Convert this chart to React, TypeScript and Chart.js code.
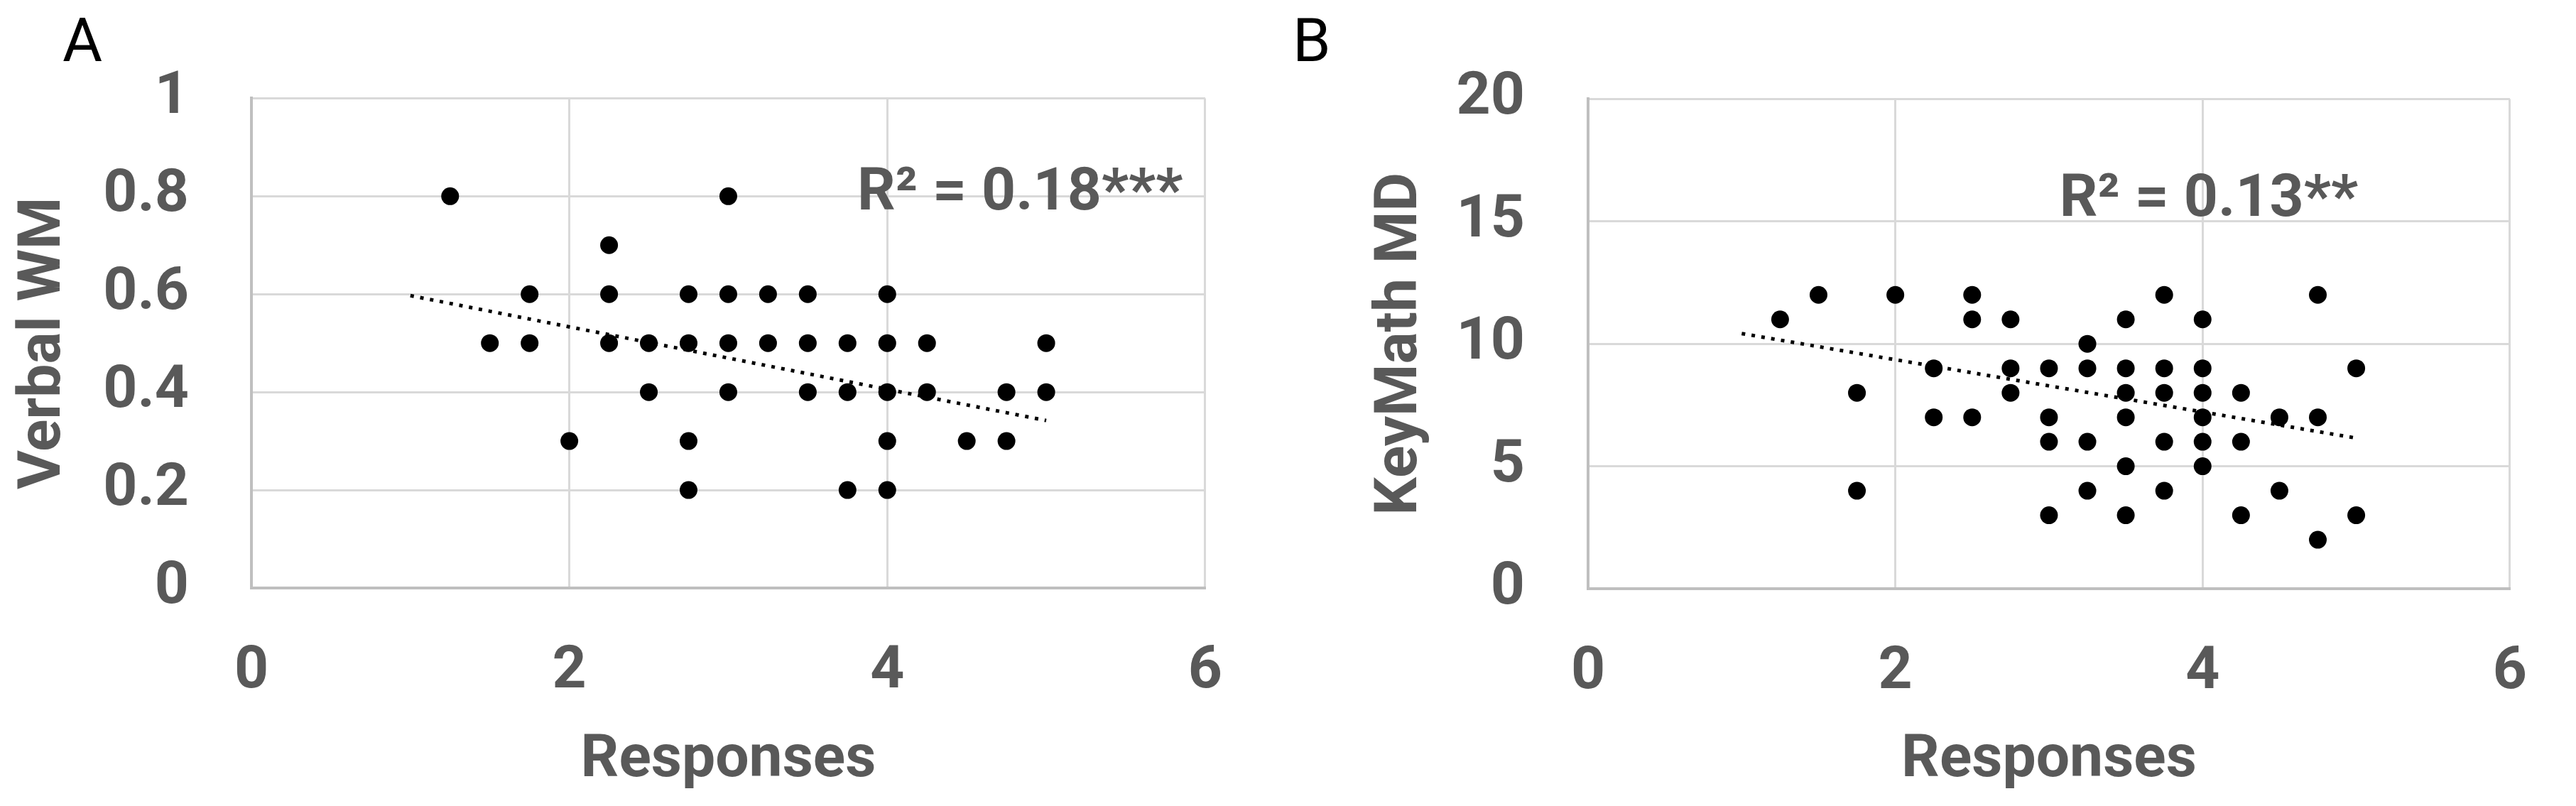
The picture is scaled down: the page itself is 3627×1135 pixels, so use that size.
import React, { useEffect, useRef } from "react";
import { Chart, registerables } from "chart.js";

Chart.register(...registerables);

const FONT = "Roboto";
const GRAY = "#595959";

// Panel A: Verbal WM vs Responses
const verbalResponses = [
  1.25, 3.0, 2.25,
  1.75, 2.25, 2.75, 3.0, 3.25, 3.5, 4.0,
  1.5, 1.75, 2.25, 2.5, 2.75, 3.0, 3.25, 3.5, 3.75, 4.0, 4.25, 5.0,
  2.5, 3.0, 3.5, 3.75, 4.0, 4.25, 4.75, 5.0,
  2.0, 2.75, 4.0, 4.5, 4.75,
  2.75, 3.75, 4.0,
];
const verbalWM = [
  0.8, 0.8, 0.7,
  0.6, 0.6, 0.6, 0.6, 0.6, 0.6, 0.6,
  0.5, 0.5, 0.5, 0.5, 0.5, 0.5, 0.5, 0.5, 0.5, 0.5, 0.5, 0.5,
  0.4, 0.4, 0.4, 0.4, 0.4, 0.4, 0.4, 0.4,
  0.3, 0.3, 0.3, 0.3, 0.3,
  0.2, 0.2, 0.2,
];
const verbalTrendX = [1, 5];
const verbalTrendY = [0.597, 0.342];

// Panel B: KeyMath MD vs Responses
const keyResponses = [
  1.5, 2.0, 2.5, 3.75, 4.75,
  1.25, 2.5, 2.75, 3.5, 4.0,
  3.25,
  2.25, 2.75, 3.0, 3.25, 3.5, 3.75, 4.0, 5.0,
  1.75, 2.75, 3.5, 3.75, 4.0, 4.25,
  2.25, 2.5, 3.0, 3.5, 4.0, 4.5, 4.75,
  3.0, 3.25, 3.75, 4.0, 4.25,
  3.5, 4.0,
  1.75, 3.25, 3.75, 4.5,
  3.0, 3.5, 4.25, 5.0,
  4.75,
];
const keyMathMD = [
  12, 12, 12, 12, 12,
  11, 11, 11, 11, 11,
  10,
  9, 9, 9, 9, 9, 9, 9, 9,
  8, 8, 8, 8, 8, 8,
  7, 7, 7, 7, 7, 7, 7,
  6, 6, 6, 6, 6,
  5, 5,
  4, 4, 4, 4,
  3, 3, 3, 3,
  2,
];
const keyTrendX = [1, 5];
const keyTrendY = [10.42, 6.15];

// Axes
const xMin = 0, xMax = 6, xStep = 2;
const verbalYMin = 0, verbalYMax = 1, verbalYStep = 0.2;
const keyYMin = 0, keyYMax = 20, keyYStep = 5;

const xTitle = "Responses";
const yTitles = ["Verbal WM", "KeyMath MD"];
const panelLabels = ["A", "B"];
const r2Labels = ["R\u00B2 = 0.18***", "R\u00B2 = 0.13**"];
const r2AnchorX = [4.835, 4.04];
const r2AnchorY = [0.7736, 15.24];

const fmtTick = (v: number | string) => String(Math.round(Number(v) * 100) / 100);

const annotatePlugin = {
  id: "annotate",
  afterDatasetsDraw(chart: any, _args: any, opts: any) {
    const { ctx, scales } = chart;
    ctx.save();
    ctx.font = `bold 84px ${FONT}`;
    ctx.fillStyle = GRAY;
    ctx.textAlign = "center";
    ctx.textBaseline = "alphabetic";
    ctx.fillText(
      opts.r2,
      scales.x.getPixelForValue(opts.r2x),
      scales.y.getPixelForValue(opts.r2y)
    );
    ctx.font = `86px ${FONT}`;
    ctx.fillStyle = "#000000";
    ctx.textAlign = "left";
    ctx.fillText(opts.panel, opts.panelX, 86);
    ctx.restore();
  },
};

type Panel = {
  left: number;
  width: number;
  yAxisWidth: number;
  padRight: number;
  padTop: number;
  xAxisHeight: number;
  yTickPad: number;
  yTitlePad: number;
  panelX: number;
  xs: number[];
  ys: number[];
  tx: number[];
  ty: number[];
  yMin: number;
  yMax: number;
  yStep: number;
  idx: number;
};

function ScatterPanel(p: Panel) {
  const ref = useRef<HTMLCanvasElement | null>(null);
  useEffect(() => {
    if (!ref.current) return;
    const points = p.xs.map((x, i) => ({ x, y: p.ys[i] }));
    const trend = p.tx.map((x, i) => ({ x, y: p.ty[i] }));
    const tickFont = { family: FONT, size: 84, weight: "bold" as const };
    const chart = new Chart(ref.current, {
      type: "scatter",
      data: {
        datasets: [
          {
            data: points,
            backgroundColor: "#000000",
            borderWidth: 0,
            pointRadius: 12.5,
            pointHoverRadius: 12.5,
            showLine: false,
          },
          {
            data: trend,
            showLine: true,
            borderColor: "#000000",
            borderWidth: 5,
            borderDash: [5, 9],
            pointRadius: 0,
            pointHoverRadius: 0,
            fill: false,
          } as any,
        ],
      },
      options: {
        animation: false,
        responsive: false,
        devicePixelRatio: 1,
        layout: {
          padding: { left: 0, top: p.padTop, right: p.padRight, bottom: 0 },
        },
        plugins: {
          legend: { display: false },
          tooltip: { enabled: false },
          annotate: {
            r2: r2Labels[p.idx],
            r2x: r2AnchorX[p.idx],
            r2y: r2AnchorY[p.idx],
            panel: panelLabels[p.idx],
            panelX: p.panelX,
          },
        } as any,
        scales: {
          x: {
            type: "linear",
            min: xMin,
            max: xMax,
            ticks: { stepSize: xStep, font: tickFont, color: GRAY, padding: 69, callback: fmtTick },
            grid: { color: "#d9d9d9", lineWidth: 3, drawTicks: false },
            border: { color: "#bfbfbf", width: 4 },
            title: {
              display: true,
              text: xTitle,
              font: tickFont,
              color: GRAY,
              padding: { top: 0, bottom: 13 },
            },
            afterFit: (s: any) => {
              s.height = p.xAxisHeight;
            },
          },
          y: {
            type: "linear",
            min: p.yMin,
            max: p.yMax,
            ticks: { stepSize: p.yStep, font: tickFont, color: GRAY, padding: p.yTickPad, callback: fmtTick },
            grid: { color: "#d9d9d9", lineWidth: 3, drawTicks: false },
            border: { color: "#bfbfbf", width: 4 },
            title: {
              display: true,
              text: yTitles[p.idx],
              font: tickFont,
              color: GRAY,
              padding: { top: p.yTitlePad, bottom: 0 },
            },
            afterFit: (s: any) => {
              s.width = p.yAxisWidth;
            },
          },
        },
      },
      plugins: [annotatePlugin as any],
    });
    return () => chart.destroy();
  }, []);
  return (
    <canvas
      ref={ref}
      width={p.width}
      height={1135}
      style={{
        position: "absolute",
        left: p.left,
        top: 0,
        width: p.width,
        height: 1135,
        display: "block",
      }}
    />
  );
}

export default function App() {
  return (
    <div
      style={{
        position: "absolute",
        left: 0,
        top: 0,
        width: 3627,
        height: 1135,
        background: "#ffffff",
        overflow: "hidden",
      }}
    >
      <ScatterPanel
        idx={0}
        left={0}
        width={1790}
        yAxisWidth={354}
        padRight={92}
        padTop={123.5}
        xAxisHeight={307}
        yTickPad={88}
        yTitlePad={13}
        panelX={88}
        xs={verbalResponses}
        ys={verbalWM}
        tx={verbalTrendX}
        ty={verbalTrendY}
        yMin={verbalYMin}
        yMax={verbalYMax}
        yStep={verbalYStep}
      />
      <ScatterPanel
        idx={1}
        left={1790}
        width={1837}
        yAxisWidth={446}
        padRight={44}
        padTop={123}
        xAxisHeight={306}
        yTickPad={89}
        yTitlePad={133}
        panelX={30}
        xs={keyResponses}
        ys={keyMathMD}
        tx={keyTrendX}
        ty={keyTrendY}
        yMin={keyYMin}
        yMax={keyYMax}
        yStep={keyYStep}
      />
    </div>
  );
}
